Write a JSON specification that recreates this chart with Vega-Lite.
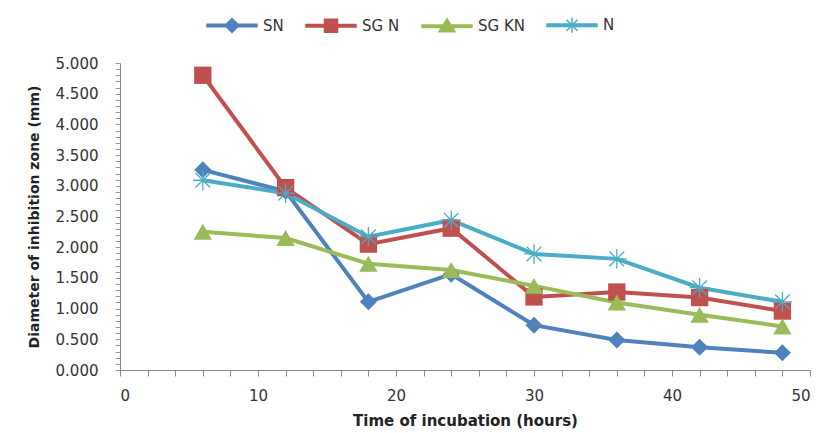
{
  "$schema": "https://vega.github.io/schema/vega-lite/v6.json",
  "width": 690,
  "height": 307,
  "autosize": "none",
  "padding": {"left": 120, "top": 63, "right": 12, "bottom": 63},
  "background": "white",
  "config": {
    "view": {"stroke": null},
    "font": "DejaVu Sans"
  },
  "data": {
    "values": [
      {"t": 6, "s": "SN", "v": 3.26}, {"t": 12, "s": "SN", "v": 2.91}, {"t": 18, "s": "SN", "v": 1.11}, {"t": 24, "s": "SN", "v": 1.56},
      {"t": 30, "s": "SN", "v": 0.73}, {"t": 36, "s": "SN", "v": 0.49}, {"t": 42, "s": "SN", "v": 0.37}, {"t": 48, "s": "SN", "v": 0.28},
      {"t": 6, "s": "SG N", "v": 4.80}, {"t": 12, "s": "SG N", "v": 2.97}, {"t": 18, "s": "SG N", "v": 2.05}, {"t": 24, "s": "SG N", "v": 2.31},
      {"t": 30, "s": "SG N", "v": 1.19}, {"t": 36, "s": "SG N", "v": 1.27}, {"t": 42, "s": "SG N", "v": 1.18}, {"t": 48, "s": "SG N", "v": 0.96},
      {"t": 6, "s": "SG KN", "v": 2.25}, {"t": 12, "s": "SG KN", "v": 2.15}, {"t": 18, "s": "SG KN", "v": 1.73}, {"t": 24, "s": "SG KN", "v": 1.63},
      {"t": 30, "s": "SG KN", "v": 1.37}, {"t": 36, "s": "SG KN", "v": 1.10}, {"t": 42, "s": "SG KN", "v": 0.90}, {"t": 48, "s": "SG KN", "v": 0.71},
      {"t": 6, "s": "N", "v": 3.09}, {"t": 12, "s": "N", "v": 2.88}, {"t": 18, "s": "N", "v": 2.17}, {"t": 24, "s": "N", "v": 2.44},
      {"t": 30, "s": "N", "v": 1.89}, {"t": 36, "s": "N", "v": 1.81}, {"t": 42, "s": "N", "v": 1.34}, {"t": 48, "s": "N", "v": 1.11}
    ]
  },
  "encoding": {
    "x": {
      "field": "t", "type": "quantitative",
      "scale": {"domain": [0, 50], "nice": false, "zero": true},
      "axis": {
        "title": "Time of incubation  (hours)",
        "titleFont": "DejaVu Sans", "titleFontSize": 15, "titleFontWeight": "bold", "titleColor": "#222",
        "titlePadding": 10,
        "values": [0,2,4,6,8,10,12,14,16,18,20,22,24,26,28,30,32,34,36,38,40,42,44,46,48,50],
        "labelExpr": "datum.value % 10 === 0 ? format(datum.value, 'd') : ''",
        "labelFont": "DejaVu Sans", "labelFontSize": 15, "labelColor": "#333", "labelPadding": 12,
        "tickSize": 6, "tickColor": "#888", "domainColor": "#888",
        "grid": false
      }
    },
    "y": {
      "field": "v", "type": "quantitative",
      "scale": {"domain": [0, 5], "nice": false},
      "axis": {
        "title": "Diameter of inhibition zone (mm)",
        "titleFont": "DejaVu Sans", "titleFontSize": 14, "titleFontWeight": "bold", "titleColor": "#222",
        "titlePadding": 14,
        "values": [0,0.1,0.2,0.3,0.4,0.5,0.6,0.7,0.8,0.9,1,1.1,1.2,1.3,1.4,1.5,1.6,1.7,1.8,1.9,2,2.1,2.2,2.3,2.4,2.5,2.6,2.7,2.8,2.9,3,3.1,3.2,3.3,3.4,3.5,3.6,3.7,3.8,3.9,4,4.1,4.2,4.3,4.4,4.5,4.6,4.7,4.8,4.9,5],
        "labelExpr": "abs(datum.value*2 - round(datum.value*2)) < 0.001 ? format(datum.value, '.3f') : ''",
        "labelFont": "DejaVu Sans", "labelFontSize": 15, "labelColor": "#333", "labelPadding": 17,
        "tickSize": 5, "tickColor": "#999", "domainColor": "#888",
        "grid": false
      }
    },
    "color": {
      "field": "s", "type": "nominal",
      "scale": {"domain": ["SN", "SG N", "SG KN", "N"], "range": ["#4F81BD", "#C0504D", "#9BBB59", "#4BACC6"]},
      "legend": {
        "title": null, "orient": "none", "direction": "horizontal",
        "legendX": 86, "legendY": -64,
        "labelFontSize": 15, "labelColor": "#333", "labelFont": "DejaVu Sans",
        "labelOffset": 5,
        "symbolSize": 2500, "columnPadding": 19, "symbolStrokeWidth": 1.5,
        "encode": {
          "symbols": {
            "update": {
              "shape": {"signal": "datum.value === 'SN' ? 'M-1,-0.05L1,-0.05L1,0.05L-1,0.05ZM0,-0.28L0.28,0L0,0.28L-0.28,0Z' : datum.value === 'SG N' ? 'M-1,-0.05L1,-0.05L1,0.05L-1,0.05ZM-0.26,-0.26L0.26,-0.26L0.26,0.26L-0.26,0.26Z' : datum.value === 'SG KN' ? 'M-1,-0.05L1,-0.05L1,0.05L-1,0.05ZM0,-0.3L0.32,0.22L-0.32,0.22Z' : 'M-1,-0.05L1,-0.05L1,0.05L-1,0.05ZM-0.3,0L0.3,0M0,-0.3L0,0.3M-0.22,-0.22L0.22,0.22M-0.22,0.22L0.22,-0.22'"},
              "strokeWidth": {"value": 1.5}
            }
          }
        }
      }
    }
  },
  "layer": [
    {
      "mark": {"type": "line", "strokeWidth": 4},
      "encoding": {"detail": {"field": "s"}}
    },
    {
      "transform": [{"filter": "datum.s === 'SN'"}],
      "mark": {"type": "point", "shape": "diamond", "filled": true, "opacity": 1, "size": 290}
    },
    {
      "transform": [{"filter": "datum.s === 'SG N'"}],
      "mark": {"type": "point", "shape": "square", "filled": true, "opacity": 1, "size": 300}
    },
    {
      "transform": [{"filter": "datum.s === 'SG KN'"}],
      "mark": {"type": "point", "shape": "triangle-up", "filled": true, "opacity": 1, "size": 340}
    },
    {
      "transform": [{"filter": "datum.s === 'N'"}],
      "mark": {"type": "point", "shape": "M-1,0L1,0M0,-1L0,1M-0.75,-0.75L0.75,0.75M-0.75,0.75L0.75,-0.75", "filled": false, "opacity": 1, "size": 380, "strokeWidth": 1.3}
    }
  ]
}
